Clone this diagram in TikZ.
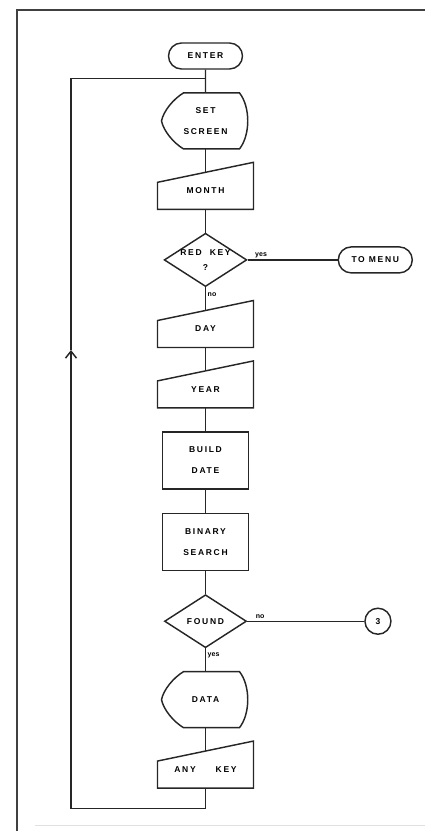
\documentclass[tikz,border=0pt]{standalone}
\usepackage{fontspec}
\setmainfont{Liberation Sans}
\newfontfamily\chartfont[LetterSpace=20]{Liberation Sans}
\usepackage{tikz}
\usetikzlibrary{arrows.meta,shapes,positioning,calc}
\tikzset{
    flow/.style={line width=1.45pt, draw=black!85},
    boxtext/.style={font=\chartfont\bfseries\fontsize{8.5}{21}\selectfont, align=center},
    terminal/.style={flow, boxtext, rounded rectangle, minimum width=76pt, minimum height=26pt, inner sep=1pt},
    process/.style={flow, boxtext, rectangle, minimum width=86pt, minimum height=57pt},
    decision/.style={flow, boxtext, diamond, aspect=1.55, inner sep=0pt, minimum width=82pt, minimum height=53pt},
    connector/.style={flow, boxtext, circle, minimum size=26pt, inner sep=0pt},
    manualin/.style={boxtext, minimum width=96pt, minimum height=37pt, inner sep=0pt,
        append after command={\pgfextra{\draw[flow, shift={(\tikzlastnode.center)}]
            (-48,8.5) -- (48,28.5) -- (48,-18.5) -- (-48,-18.5) -- cycle;}}},
    display/.style={boxtext, minimum width=88pt, minimum height=56pt, inner sep=0pt,
        append after command={\pgfextra{\draw[flow, shift={(\tikzlastnode.center)}]
            (-22,28) -- (34,28) .. controls (45,14) and (45,-14) .. (34,-28)
            -- (-22,-28) .. controls (-32,-22) and (-42,-10) .. (-44,0)
            .. controls (-42,10) and (-32,22) .. (-22,28) -- cycle;}}},
    branch/.style={font=\bfseries\fontsize{7}{8}\selectfont, inner sep=1.5pt}
}

\begin{document}
\begin{tikzpicture}[x=1pt, y=1pt, node distance=23pt]
    \useasboundingbox (0,0) rectangle (425,831);
    % frame
    \draw[line width=2pt, black!75] (17,0) -- (17,821) -- (425,821);
    \draw[line width=0.8pt, black!12] (35,6) -- (425,6);

    \node[terminal] (enter) at (205.5,775) {ENTER};
    \node[display, below=of enter] (setscreen) {SET\\SCREEN};
    \node[manualin, below=of setscreen] (month) {MONTH};
    \node[decision, below=of month] (redkey) {RED\ \ KEY\\[-6pt]?};
    \node[terminal, right=90pt of redkey] (tomenu) {TO\ MENU};
    \node[manualin, below=of redkey] (day) {DAY};
    \node[manualin, below=of day] (year) {YEAR};
    \node[process, below=of year] (builddate) {BUILD\\DATE};
    \node[process, below=of builddate] (binsearch) {BINARY\\SEARCH};
    \node[decision, below=of binsearch] (found) {FOUND};
    \node[connector, right=117pt of found] (pagethree) {3};
    \node[display, below=of found] (data) {DATA};
    \node[manualin, below=of data] (anykey) {ANY\hspace{20pt}KEY};

    \draw[flow] (enter) -- (setscreen);
    \draw[flow] (setscreen) -- (month);
    \draw[flow] (month) -- (redkey);
    \draw[flow] (redkey) -- node[branch, above, pos=0.15] {yes} (tomenu);
    \draw[flow] (redkey) -- node[branch, right, pos=0.3] {no} (day);
    \draw[flow] (day) -- (year);
    \draw[flow] (year) -- (builddate);
    \draw[flow] (builddate) -- (binsearch);
    \draw[flow] (binsearch) -- (found);
    \draw[flow] (found) -- node[branch, above, pos=0.11] {no} (pagethree);
    \draw[flow] (found) -- node[branch, right, pos=0.3] {yes} (data);
    \draw[flow] (data) -- (anykey);

    % loop back to the top
    \coordinate[below=20pt of anykey] (loopend);
    \coordinate[below=9pt of enter] (loopjoin);
    \coordinate (looparrow) at (71,481);
    \draw[flow, -{Straight Barb[length=7pt, width=11pt]}] (anykey) -- (loopend) -| (looparrow);
    \draw[flow] (looparrow) |- (loopjoin);
\end{tikzpicture}
\end{document}
